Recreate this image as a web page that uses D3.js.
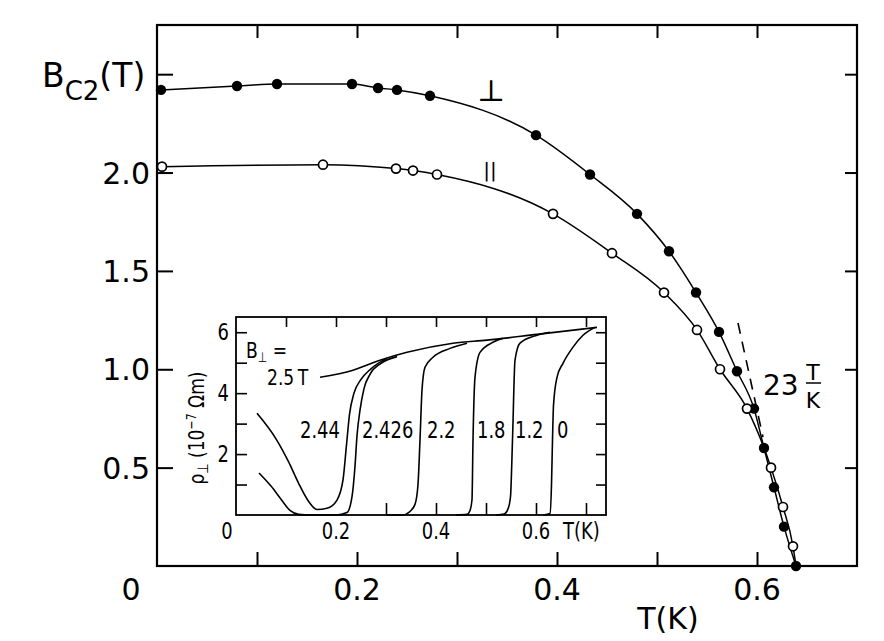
<!DOCTYPE html>
<html><head><meta charset="utf-8">
<script src="https://cdn.jsdelivr.net/npm/d3@7"></script>
<style>body{margin:0;background:#fff}svg{display:block}</style>
</head><body>
<svg id="c" width="884" height="641"></svg>
<script>
// ---------- main plot data: upper critical field B_c2 vs T ----------
const perpT = [0.004, 0.080, 0.120, 0.195, 0.221, 0.240, 0.273, 0.379, 0.433, 0.480, 0.512, 0.539, 0.562, 0.580, 0.597, 0.607, 0.617, 0.627, 0.639];
const perpB = [2.42, 2.44, 2.45, 2.45, 2.43, 2.42, 2.39, 2.19, 1.99, 1.79, 1.60, 1.39, 1.19, 0.99, 0.80, 0.60, 0.40, 0.20, 0.00];
const parT  = [0.005, 0.166, 0.239, 0.256, 0.280, 0.396, 0.455, 0.507, 0.540, 0.563, 0.590, 0.614, 0.626, 0.636];
const parB  = [2.03, 2.04, 2.02, 2.01, 1.99, 1.79, 1.59, 1.39, 1.20, 1.00, 0.80, 0.50, 0.30, 0.10];
const tcT = 0.639, tcB = 0.0;             // common end of both fitted curves
const tangentT = [0.581, 0.606];          // dashed 23 T/K slope line
const tangentB = [1.235, 0.655];
const xMinorTicks = [0.1, 0.2, 0.3, 0.4, 0.5, 0.6];
const xTickLabels = [0.2, 0.4, 0.6];
const yTicks = [0.5, 1.0, 1.5, 2.0, 2.5];
const yTickLabels = [0.5, 1.0, 1.5, 2.0];

// ---------- inset data: resistivity vs T for several fields ----------
const c250T = [0.168, 0.234, 0.288, 0.342, 0.434, 0.502, 0.602, 0.722];
const c250R = [4.52, 4.75, 5.08, 5.34, 5.64, 5.74, 5.93, 6.16];
const c244T = [0.042, 0.080, 0.105, 0.125, 0.145, 0.162, 0.182, 0.202, 0.214, 0.221, 0.227, 0.236, 0.250, 0.270, 0.302];
const c244R = [3.34, 2.50, 1.75, 1.05, 0.45, 0.18, 0.22, 0.49, 1.15, 2.30, 3.30, 4.00, 4.45, 4.80, 5.15];
const c2426T = [0.046, 0.070, 0.090, 0.108, 0.125, 0.150, 0.200, 0.222, 0.232, 0.238, 0.242, 0.248, 0.256, 0.268, 0.290, 0.322];
const c2426R = [1.38, 0.95, 0.52, 0.15, 0.02, 0.00, 0.00, 0.08, 0.60, 1.60, 2.60, 3.44, 4.15, 4.62, 4.98, 5.20];
const c220T = [0.300, 0.335, 0.345, 0.358, 0.364, 0.368, 0.372, 0.378, 0.394, 0.428, 0.462];
const c220R = [0.00, 0.00, 0.08, 0.35, 1.00, 2.46, 4.10, 4.85, 5.18, 5.47, 5.64];
const c180T = [0.440, 0.462, 0.468, 0.472, 0.474, 0.478, 0.488, 0.514, 0.534];
const c180R = [0.00, 0.02, 0.15, 0.50, 2.46, 4.52, 5.34, 5.67, 5.80];
const c120T = [0.520, 0.536, 0.544, 0.549, 0.553, 0.558, 0.568, 0.602, 0.628];
const c120R = [0.00, 0.03, 0.20, 0.60, 2.46, 5.08, 5.64, 5.90, 6.00];
const c000T = [0.615, 0.628, 0.631, 0.633, 0.635, 0.642, 0.654, 0.674, 0.694, 0.718];
const c000R = [0.00, 0.05, 1.00, 2.46, 3.60, 4.52, 4.98, 5.51, 5.90, 6.16];
const insetXTicksTop = [0.1, 0.2, 0.3, 0.4, 0.5, 0.6, 0.7];
const insetXTicksBottom = [0.3, 0.4, 0.5, 0.6, 0.7];
const insetXTickLabels = [0.2, 0.4, 0.6];
const insetYTicks = [1, 2, 3, 4, 5, 6];
const insetYTickLabels = [2, 4, 6];
const fieldLabels = ["2.44", "2.426", "2.2", "1.8", "1.2", "0"];
const fieldLabelT = [0.128, 0.252, 0.382, 0.482, 0.558, 0.642];

// ---------- drawing ----------
const svg = d3.select("#c");
const mainFont = "'DejaVu Sans', sans-serif";
const insFont = "'DejaVu Sans', sans-serif";
const SX = 0.78; // horizontal squeeze for the narrow inset lettering

const x = d3.scaleLinear().domain([0, 0.7]).range([157, 857]);
const y = d3.scaleLinear().domain([0, 2.75]).range([566, 25]);

function strip(g){ g.select(".domain").remove(); g.selectAll("line").attr("stroke","#000").attr("stroke-width",2); }

svg.append("g").attr("transform","translate(0,566)")
  .call(d3.axisBottom(x).tickValues(xMinorTicks).tickSize(-14).tickFormat("")).call(strip);
svg.append("g").attr("transform","translate(0,25)")
  .call(d3.axisTop(x).tickValues(xMinorTicks).tickSize(-13).tickFormat("")).call(strip);
svg.append("g").attr("transform","translate(157,0)")
  .call(d3.axisLeft(y).tickValues(yTicks).tickSize(-16).tickFormat("")).call(strip);
svg.append("g").attr("transform","translate(857,0)")
  .call(d3.axisRight(y).tickValues(yTicks).tickSize(-12).tickFormat("")).call(strip);

svg.append("rect").attr("x",x(0)).attr("y",y(2.75)).attr("width",x(0.7)-x(0)).attr("height",y(0)-y(2.75))
  .attr("fill","none").attr("stroke","#000").attr("stroke-width",2.2);

// tick labels
svg.selectAll(".xl").data(xTickLabels).join("text")
  .attr("x",d=>x(d)).attr("y",600).attr("text-anchor","middle")
  .attr("font-family",mainFont).attr("font-size",30).text(d=>d.toFixed(1));
svg.append("text").attr("x",x(0)-26).attr("y",600).attr("text-anchor","middle")
  .attr("font-family",mainFont).attr("font-size",30).text("0");
svg.selectAll(".yl").data(yTickLabels).join("text")
  .attr("x",150).attr("y",d=>y(d)+11).attr("text-anchor","end")
  .attr("font-family",mainFont).attr("font-size",30).text(d=>d.toFixed(1));

// axis titles
const yt = svg.append("text").attr("x",42).attr("y",87).attr("font-family",mainFont).attr("font-size",33);
yt.append("tspan").text("B");
yt.append("tspan").attr("font-size",26).attr("dy",13).text("C2");
yt.append("tspan").attr("dy",-13).text("(T)");
svg.append("text").attr("x",668).attr("y",629).attr("text-anchor","middle")
  .attr("font-family",mainFont).attr("font-size",30).text("T(K)");

// curves
const line = d3.line().x(d=>x(d[0])).y(d=>y(d[1])).curve(d3.curveMonotoneX);
const perpPts = perpT.map((t,i)=>[t,perpB[i]]);
const parPts = parT.map((t,i)=>[t,parB[i]]);
svg.append("path").attr("d",line(perpPts)).attr("fill","none").attr("stroke","#000").attr("stroke-width",1.5);
svg.append("path").attr("d",line(parPts.concat([[tcT,tcB]]))).attr("fill","none").attr("stroke","#000").attr("stroke-width",1.5);

svg.append("line").attr("x1",x(tangentT[0])).attr("y1",y(tangentB[0])).attr("x2",x(tangentT[1])).attr("y2",y(tangentB[1]))
  .attr("stroke","#000").attr("stroke-width",1.6).attr("stroke-dasharray","11,8");

svg.selectAll(".pp").data(perpPts).join("circle")
  .attr("cx",d=>x(d[0])).attr("cy",d=>y(d[1])).attr("r",5.2).attr("fill","#000");
svg.selectAll(".op").data(parPts).join("circle")
  .attr("cx",d=>x(d[0])).attr("cy",d=>y(d[1])).attr("r",4.5).attr("fill","#fff").attr("stroke","#000").attr("stroke-width",1.7);

// curve labels
svg.append("text").attr("x",491).attr("y",101).attr("text-anchor","middle").attr("font-family","'DejaVu Serif', serif").attr("font-size",30).text("⊥");
svg.append("text").attr("x",490).attr("y",177).attr("text-anchor","middle").attr("font-family",mainFont).attr("font-size",20).text("||");
svg.append("text").attr("x",763).attr("y",395).attr("font-family",mainFont).attr("font-size",28).text("23");
svg.append("text").attr("x",813).attr("y",380).attr("text-anchor","middle").attr("font-family",mainFont).attr("font-size",22).text("T");
svg.append("line").attr("x1",806).attr("x2",821).attr("y1",383).attr("y2",383).attr("stroke","#000").attr("stroke-width",1.5);
svg.append("text").attr("x",813).attr("y",408).attr("text-anchor","middle").attr("font-family",mainFont).attr("font-size",22).text("K");

// ---------- inset ----------
const xi = d3.scaleLinear().domain([0, 0.74]).range([236, 606]);
const yi = d3.scaleLinear().domain([0, 6.5]).range([515, 317]);
const ins = svg.append("g");
ins.append("rect").attr("x",xi(0)).attr("y",yi(6.5)).attr("width",xi(0.74)-xi(0)).attr("height",yi(0)-yi(6.5))
  .attr("fill","#fff").attr("stroke","#000").attr("stroke-width",1.8);
function stripI(g){ g.select(".domain").remove(); g.selectAll("line").attr("stroke","#000").attr("stroke-width",1.6); }
ins.append("g").attr("transform",`translate(0,${yi(0)})`)
  .call(d3.axisBottom(xi).tickValues(insetXTicksBottom).tickSize(-12).tickFormat("")).call(stripI);
ins.append("g").attr("transform",`translate(0,${yi(6.5)})`)
  .call(d3.axisTop(xi).tickValues(insetXTicksTop).tickSize(-10).tickFormat("")).call(stripI);
ins.append("g").attr("transform",`translate(${xi(0)},0)`)
  .call(d3.axisLeft(yi).tickValues(insetYTicks).tickSize(-11).tickFormat("")).call(stripI);
ins.append("g").attr("transform",`translate(${xi(0.74)},0)`)
  .call(d3.axisRight(yi).tickValues(insetYTicks).tickSize(-10).tickFormat("")).call(stripI);

// narrow text helper: text squeezed horizontally about its anchor point
function itext(px, py, anchor, size, str){
  return ins.append("text").attr("transform",`translate(${px},${py}) scale(${SX},1)`)
    .attr("text-anchor",anchor).attr("font-family",insFont).attr("font-size",size).text(str);
}
insetYTickLabels.forEach(d=>itext(229, yi(d)+8, "end", 23, d));
insetXTickLabels.forEach(d=>itext(xi(d), 539, "middle", 23, d.toFixed(1)));
itext(xi(0)-9, 539, "middle", 23, "0");
itext(563, 539, "start", 23, "T(K)");

const yl = ins.append("text").attr("transform",`translate(204,428) rotate(-90) scale(${SX},1)`).attr("text-anchor","middle")
  .attr("font-family",insFont).attr("font-size",22);
yl.append("tspan").text("ρ");
yl.append("tspan").attr("font-size",15).attr("dy",4).text("⊥");
yl.append("tspan").attr("dy",-4).text(" (10");
yl.append("tspan").attr("font-size",14).attr("dy",-8).text("−7");
yl.append("tspan").attr("dy",8).text(" Ωm)");

const li = d3.line().x(d=>xi(d[0])).y(d=>yi(d[1])).curve(d3.curveMonotoneX);
const insetCurves = [[c250T,c250R],[c244T,c244R],[c2426T,c2426R],[c220T,c220R],[c180T,c180R],[c120T,c120R],[c000T,c000R]];
insetCurves.forEach(([ts,rs])=>{
  ins.append("path").attr("d",li(ts.map((t,i)=>[t,rs[i]]))).attr("fill","none").attr("stroke","#000").attr("stroke-width",1.6);
});

const bl = itext(246, 358, "start", 22, "");
bl.append("tspan").text("B");
bl.append("tspan").attr("font-size",14).attr("dy",4).text("⊥");
bl.append("tspan").attr("dy",-4).text(" =");
itext(267, 385, "start", 22, "2.5\u2009T");
fieldLabels.forEach((d,i)=>itext(xi(fieldLabelT[i]), 438, "start", 23, d));
</script>
</body></html>
